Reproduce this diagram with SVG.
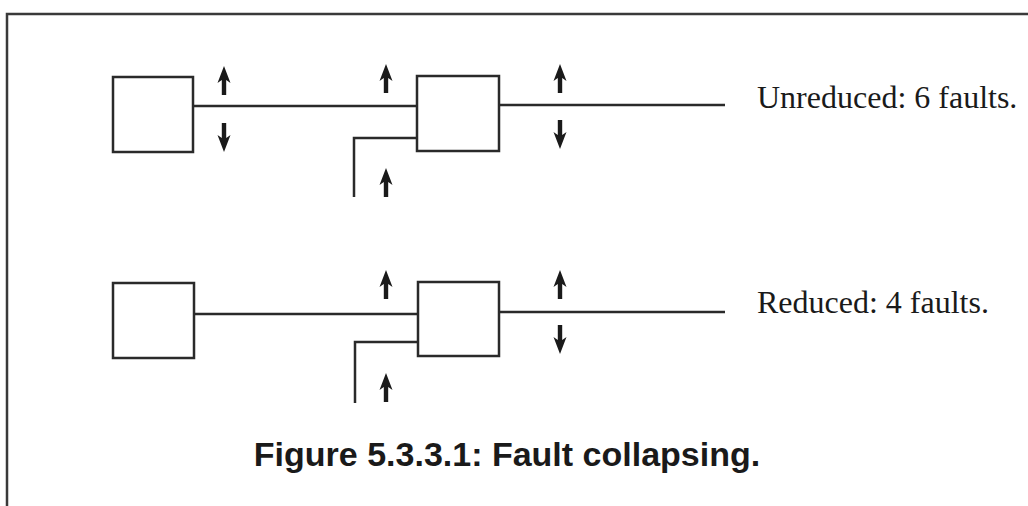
<svg xmlns="http://www.w3.org/2000/svg" xmlns:xlink="http://www.w3.org/1999/xlink" width="1028" height="506" viewBox="0 0 1028 506">
<style>
.frame{fill:none;stroke:#3a3a3a;stroke-width:2.5}
.box{fill:#fff;stroke:#2a2a2a;stroke-width:2.5}
.wire{fill:none;stroke:#2a2a2a;stroke-width:2.5}
.arr{fill:#1a1a1a}
.lbl{font-family:"Liberation Serif","Times New Roman",serif;font-size:32px;fill:#1a1a1a}
.cap{font-family:"Liberation Sans",Arial,sans-serif;font-size:34px;font-weight:bold;fill:#1a1a1a}
</style>
<defs>
<path id="up" class="arr" d="M0,0 L6.5,17 L2.2,14 L2.2,29 L-2.2,29 L-2.2,14 L-6.5,17 Z"/>
<path id="down" class="arr" d="M0,0 L6.5,-17 L2.2,-14 L2.2,-29 L-2.2,-29 L-2.2,-14 L-6.5,-17 Z"/>
</defs>
<rect width="1028" height="506" fill="#fff"/>
<g id="frame"><path class="frame" d="M7,506 L7,14 L1028,14"/></g>

<g id="connectors">
<line class="wire" x1="193" y1="106" x2="417" y2="106"/>
<path class="wire" d="M417,138 L354,138 L354,197"/>
<line class="wire" x1="499" y1="105" x2="725" y2="105"/>
<line class="wire" x1="194" y1="314" x2="418" y2="314"/>
<path class="wire" d="M418,342 L355,342 L355,403"/>
<line class="wire" x1="499" y1="312" x2="725" y2="312"/>
</g>

<g id="top-gate1"><rect class="box" x="113" y="77" width="80" height="75"/></g>
<g id="top-gate2"><rect class="box" x="417" y="76" width="82" height="75"/></g>
<g id="bot-gate1"><rect class="box" x="113" y="283" width="81" height="75"/></g>
<g id="bot-gate2"><rect class="box" x="418" y="282" width="81" height="74"/></g>

<g id="faults-top">
<use xlink:href="#up" x="224" y="66"/>
<use xlink:href="#down" x="224" y="152"/>
<use xlink:href="#up" x="386" y="64"/>
<use xlink:href="#up" x="386" y="168"/>
<use xlink:href="#up" x="560" y="64"/>
<use xlink:href="#down" x="560" y="149"/>
</g>
<g id="faults-bottom">
<use xlink:href="#up" x="386" y="270"/>
<use xlink:href="#up" x="386" y="373"/>
<use xlink:href="#up" x="560" y="270"/>
<use xlink:href="#down" x="560" y="354"/>
</g>

<g id="labels">
<text class="lbl" x="757" y="108">Unreduced: 6 faults.</text>
<text class="lbl" x="757" y="313">Reduced: 4 faults.</text>
<text class="cap" x="507" y="466" text-anchor="middle">Figure 5.3.3.1: Fault collapsing.</text>
</g>
</svg>
